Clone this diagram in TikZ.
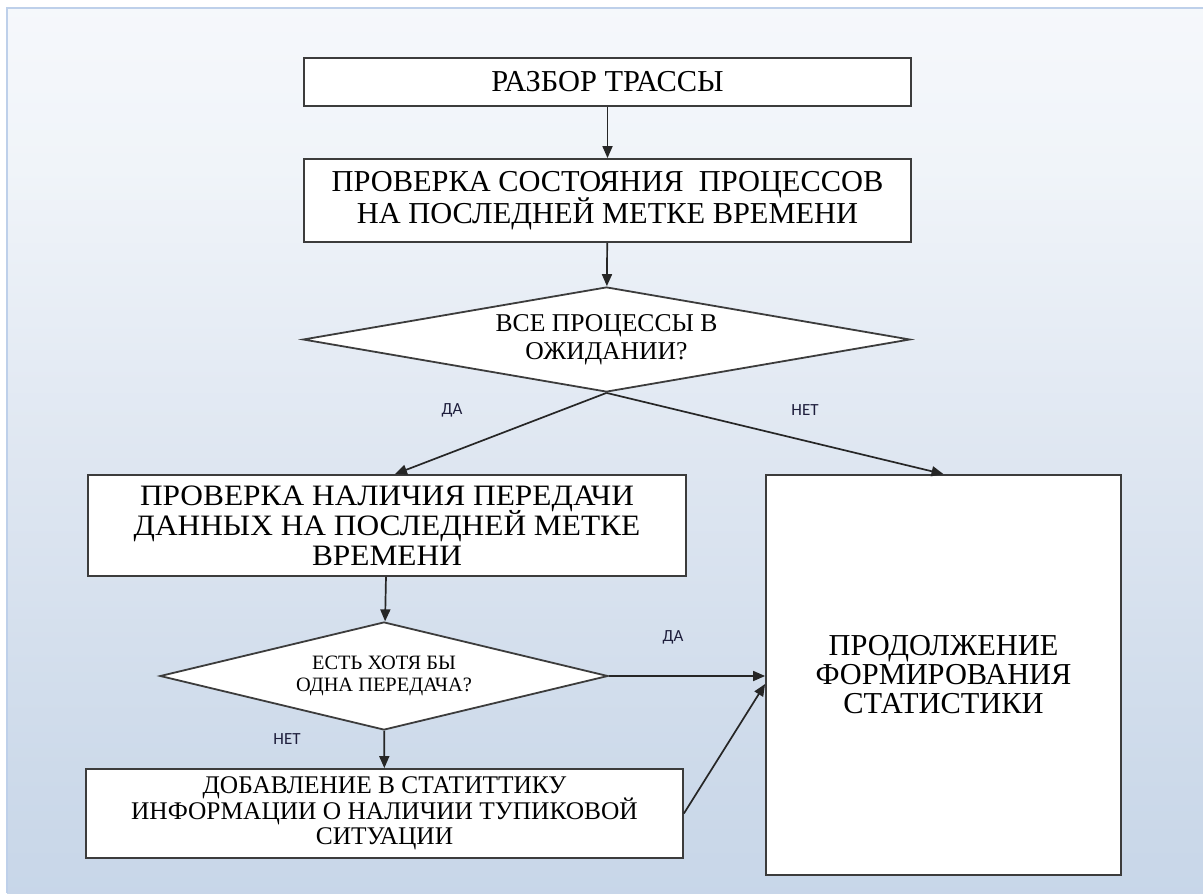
\documentclass[tikz,border=0pt]{standalone}
\usepackage{fontspec}
\setmainfont{Liberation Serif}
\newfontfamily\widefont[FakeStretch=1.06]{Liberation Serif}
\newfontfamily\labelfont{Carlito}
\usetikzlibrary{shapes.geometric,arrows.meta,positioning}

\definecolor{bgtop}{RGB}{255,255,255}
\definecolor{bgupper}{RGB}{250,251,253}
\definecolor{bglight}{RGB}{240,244,249}
\definecolor{bgmid}{RGB}{222,230,241}
\definecolor{bglow}{RGB}{205,218,234}
\definecolor{bgbot}{RGB}{184,203,228}
\definecolor{frameline}{RGB}{190,208,234}
\definecolor{boxline}{RGB}{60,60,60}
\definecolor{labeltext}{RGB}{30,30,60}

% keep baselines even when accented capitals touch
\newcommand\tightlines{\lineskiplimit-8pt\relax}

% background panel, light at the top and bluish at the bottom
\pgfdeclareverticalshading{panelshade}{100bp}{color(0bp)=(bgbot); color(15bp)=(bgbot!60!bglow); color(32bp)=(bglow); color(49bp)=(bgmid); color(66bp)=(bglight); color(83bp)=(bgupper); color(100bp)=(bgtop)}

\begin{document}
\begin{tikzpicture}[
    x=0.5pt, y=-0.5pt,
    stepbox/.style={draw=boxline, line width=0.9pt, fill=white, rectangle, inner sep=0pt, align=center},
    decision/.style={draw=boxline, line width=0.9pt, fill=white, diamond, inner sep=0pt, align=center},
    arrow/.style={-{Triangle[length=6pt, width=5pt]}, line width=0.85pt, black!85},
    branch/.style={font=\labelfont\fontsize{8.5}{10}\selectfont, text=labeltext},
    txt/.style 2 args={font=\fontsize{#1}{#2}\selectfont\tightlines},
    widetxt/.style 2 args={font=\widefont\fontsize{#1}{#2}\selectfont\tightlines},
]
\useasboundingbox (0,0) rectangle (1203,893);

% panel
\shade[shading=panelshade] (7,8) rectangle (1203,893);
\draw[frameline, line width=0.8pt] (7,893) -- (7,8) -- (1203,8);

% main column
\node[stepbox, minimum width=303.5pt, minimum height=24pt, txt={15.2}{16}] (parse) at (607.5,82) {РАЗБОР ТРАССЫ};
\node[stepbox, minimum width=303.5pt, minimum height=41.5pt, txt={15.2}{16}] (state) at (607.5,200.5) {ПРОВЕРКА СОСТОЯНИЯ ~ПРОЦЕССОВ\\НА ПОСЛЕДНЕЙ МЕТКЕ ВРЕМЕНИ};
\node[decision, aspect=5.8, minimum width=303.5pt, minimum height=52.5pt, txt={12.8}{14}] (waitall) at (606.5,339.5) {ВСЕ ПРОЦЕССЫ В\\ОЖИДАНИИ?};

% left branch
\node[stepbox, minimum width=299pt, minimum height=50.5pt, widetxt={14.8}{15}] (transfer) at (387,525.5) {ПРОВЕРКА НАЛИЧИЯ ПЕРЕДАЧИ\\ДАННЫХ НА ПОСЛЕДНЕЙ МЕТКЕ\\ВРЕМЕНИ};
\node[decision, aspect=4.1, minimum width=224pt, minimum height=54pt, txt={10.2}{11}] (anysend) at (384,676) {ЕСТЬ ХОТЯ БЫ\\ОДНА ПЕРЕДАЧА?};
\node[stepbox, minimum width=298.5pt, minimum height=44.5pt, txt={12.7}{12.8}] (deadlock) at (384.5,813.5) {ДОБАВЛЕНИЕ В СТАТИТТИКУ\\ИНФОРМАЦИИ О НАЛИЧИИ ТУПИКОВОЙ\\СИТУАЦИИ};

% right branch
\node[stepbox, minimum width=177.5pt, minimum height=200pt, txt={15.2}{14.5}] (stats) at (943.5,675) {ПРОДОЛЖЕНИЕ\\ФОРМИРОВАНИЯ\\СТАТИСТИКИ};

\draw[arrow] (parse) -- (state);
\draw[arrow] (state) -- (waitall);
\draw[arrow] (waitall.south) -- ([xshift=4pt]transfer.north);
\draw[arrow] (waitall.south) -- (stats.north);
\draw[arrow] (transfer) -- (anysend);
\draw[arrow] (anysend.east) -- (anysend.east -| stats.west);
\draw[arrow] (anysend) -- (deadlock);
\draw[arrow] (deadlock.east) -- ([yshift=-4.5pt]stats.west);

\node[branch] (yes1) at (452,410) {ДА};
\node[branch] (no1) at (805,410) {НЕТ};
\node[branch] (yes2) at (673,637) {ДА};
\node[branch] (no2) at (287,739) {НЕТ};
\end{tikzpicture}
\end{document}
